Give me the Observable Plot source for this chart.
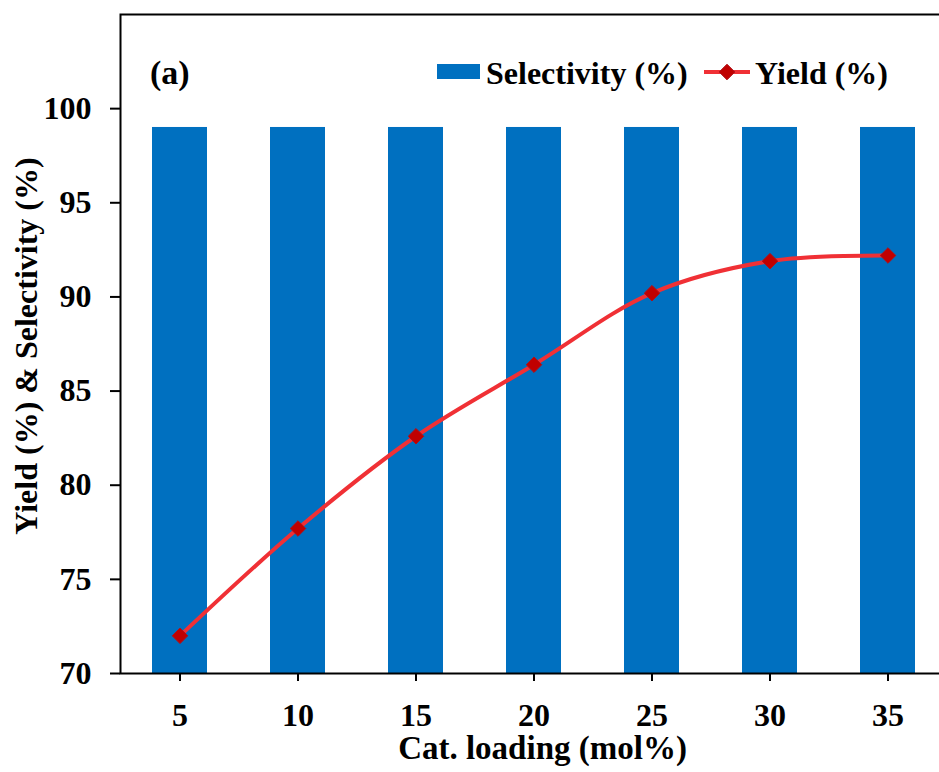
<!DOCTYPE html>
<html>
<head>
<meta charset="utf-8">
<script src="https://cdn.jsdelivr.net/npm/d3@7"></script>
<script src="https://cdn.jsdelivr.net/npm/@observablehq/plot@0.6"></script>
<style>
  body { margin: 0; background: #fff; }
  #chart { width: 939px; height: 772px; }
</style>
</head>
<body>
<div id="chart"></div>
<script>
const loadings = [5, 10, 15, 20, 25, 30, 35];
const selectivity = [99, 99, 99, 99, 99, 99, 99];
const yieldPct = [72.0, 77.7, 82.6, 86.4, 90.2, 91.9, 92.2];
const yTicks = [70, 75, 80, 85, 90, 95, 100];
const xLabel = "Cat. loading (mol%)";
const yLabel = "Yield (%) & Selectivity (%)";
const panelLabel = "(a)";
const legendLabels = ["Selectivity (%)", "Yield (%)"];

const rows = loadings.map((x, i) => ({x, sel: selectivity[i], yld: yieldPct[i]}));

const FONT = "'Liberation Serif', 'Times New Roman', serif";
const FS = 32;
const BLUE = "#0070C0";
const RED = "#F03035";
const DARKRED = "#C00000";

const plot = Plot.plot({
  width: 939,
  height: 772,
  marginLeft: 120,
  marginTop: 14,
  marginRight: -7,
  marginBottom: 99,
  style: {fontFamily: FONT, fontWeight: "bold", fontSize: FS + "px", color: "black", background: "white"},
  x: {type: "band", domain: loadings, paddingInner: 0.534, paddingOuter: 0.267, label: null},
  y: {domain: [70, 105], label: null},
  marks: [
    Plot.barY(rows, {x: "x", y: "sel", fill: BLUE, clip: true}),
    Plot.line(rows, {x: "x", y: "yld", stroke: RED, strokeWidth: 4, curve: "catmull-rom"}),
    Plot.dot(rows, {x: "x", y: "yld", symbol: "diamond2", r: 7, fill: DARKRED, stroke: "#B01018", strokeWidth: 1}),
    Plot.frame({stroke: "black", strokeWidth: 2}),
    Plot.axisY({ticks: yTicks, tickSize: 10, tickPadding: 19, strokeWidth: 2, fontSize: FS, fontWeight: "bold", label: null}),
    Plot.axisX({tickSize: 8, tickPadding: 22, strokeWidth: 2, fontSize: FS, fontWeight: "bold", label: null}),
    Plot.text([xLabel], {frameAnchor: "bottom", dx: 9, dy: 75, fontSize: 33, fontWeight: "bold", lineAnchor: "middle"})
  ]
});

document.getElementById("chart").appendChild(plot);

// titles, panel label and legend drawn into the same SVG
const svg = d3.select(plot);
svg.append("text")
  .attr("transform", "translate(27,346) rotate(-90)")
  .attr("text-anchor", "middle").attr("dy", "0.32em")
  .attr("font-size", FS).attr("font-weight", "bold").attr("font-family", FONT)
  .text(yLabel);

svg.append("text").attr("x", 150).attr("y", 84).attr("text-anchor", "start")
  .attr("font-size", 34).attr("font-weight", "bold").attr("font-family", FONT)
  .text(panelLabel);

const lg = svg.append("g").attr("font-family", FONT).attr("font-weight", "bold")
  .attr("font-size", FS).attr("text-anchor", "start");
lg.append("rect").attr("x", 437).attr("y", 64).attr("width", 43).attr("height", 15).attr("fill", BLUE);
lg.append("text").attr("x", 486).attr("y", 84).text(legendLabels[0]);
lg.append("line").attr("x1", 704).attr("x2", 750).attr("y1", 72).attr("y2", 72)
  .attr("stroke", RED).attr("stroke-width", 4);
lg.append("path").attr("d", d3.symbol(d3.symbolDiamond2, 156)()).attr("transform", "translate(727,72)")
  .attr("fill", DARKRED).attr("stroke", "#B01018");
lg.append("text").attr("x", 755).attr("y", 84).text(legendLabels[1]);
</script>
</body>
</html>
